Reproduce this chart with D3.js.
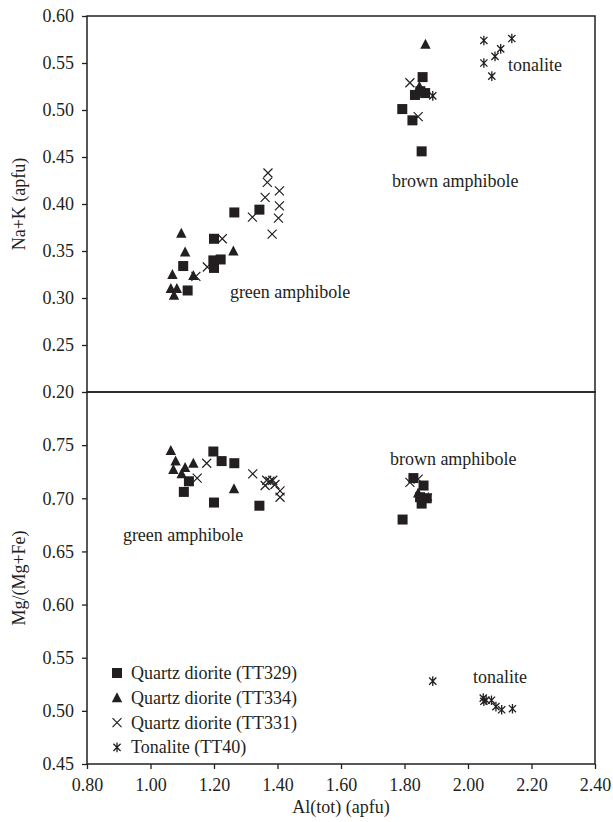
<!DOCTYPE html>
<html>
<head>
<meta charset="utf-8">
<script src="https://cdn.jsdelivr.net/npm/d3@7"></script>
<style>
  html, body { margin: 0; padding: 0; background: #fff; }
  svg text { font-family: "Liberation Serif", "Times New Roman", serif; fill: #231f20; }
</style>
</head>
<body>
<svg id="chart" width="613" height="822"></svg>
<script>
// ---------- data ----------
const xTicks = [0.80, 1.00, 1.20, 1.40, 1.60, 1.80, 2.00, 2.20, 2.40];
const topYTicks = [0.20, 0.25, 0.30, 0.35, 0.40, 0.45, 0.50, 0.55, 0.60];
const botYTicks = [0.45, 0.50, 0.55, 0.60, 0.65, 0.70, 0.75];

const seriesNames = ["Quartz diorite (TT329)", "Quartz diorite (TT334)", "Quartz diorite (TT331)", "Tonalite (TT40)"];
const seriesSymbols = ["square", "triangle", "cross", "asterisk"];

// Top panel: Al(tot) vs Na+K
const topTT329 = [[1.103,0.334],[1.117,0.308],[1.200,0.363],[1.198,0.340],[1.221,0.341],[1.200,0.332],[1.264,0.391],[1.343,0.394],
                  [1.857,0.535],[1.833,0.516],[1.865,0.518],[1.850,0.520],[1.793,0.501],[1.825,0.489],[1.854,0.456]];
const topTT334 = [[1.097,0.369],[1.109,0.349],[1.069,0.325],[1.064,0.310],[1.083,0.310],[1.074,0.303],[1.135,0.324],[1.261,0.350],
                  [1.866,0.570],[1.847,0.525]];
const topTT331 = [[1.179,0.333],[1.143,0.323],[1.226,0.363],[1.321,0.386],[1.361,0.407],[1.368,0.423],[1.370,0.433],[1.406,0.414],
                  [1.406,0.398],[1.403,0.385],[1.383,0.368],[1.817,0.529],[1.843,0.493]];
const topTT40  = [[2.050,0.574],[2.138,0.576],[2.103,0.565],[2.085,0.557],[2.050,0.550],[2.075,0.536],[1.889,0.515]];

// Bottom panel: Al(tot) vs Mg/(Mg+Fe)
const botTT329 = [[1.198,0.744],[1.224,0.735],[1.264,0.733],[1.121,0.716],[1.105,0.706],[1.200,0.696],[1.343,0.693],
                  [1.828,0.719],[1.860,0.712],[1.849,0.701],[1.870,0.700],[1.854,0.695],[1.794,0.680]];
const botTT334 = [[1.064,0.745],[1.079,0.735],[1.072,0.727],[1.109,0.729],[1.098,0.723],[1.135,0.733],[1.263,0.709],[1.843,0.705]];
const botTT331 = [[1.177,0.733],[1.147,0.719],[1.322,0.723],[1.366,0.717],[1.376,0.716],[1.392,0.713],[1.361,0.712],
                  [1.408,0.707],[1.408,0.701],[1.385,0.717],[1.817,0.715],[1.843,0.718]];
const botTT40  = [[1.875,0.701],[1.889,0.528],[2.048,0.512],[2.057,0.510],[2.074,0.510],[2.088,0.504],[2.106,0.501],[2.140,0.502],[2.050,0.509]];

// annotations [text, x, y] in data units
const topLabels = [["green amphibole", 1.250, 0.300], ["brown amphibole", 1.761, 0.418], ["tonalite", 2.126, 0.541]];
const botLabels = [["green amphibole", 0.913, 0.660], ["brown amphibole", 1.754, 0.731], ["tonalite", 2.016, 0.526]];

// ---------- layout ----------
const svg = d3.select("#chart");
const ink = "#231f20";
const L = 87, R = 595, T1 = 16, B1 = 392, T2 = 392, B2 = 764;
const fs = 18;

const x = d3.scaleLinear().domain([0.8, 2.4]).range([L, R]);
const yTop = d3.scaleLinear().domain([0.2, 0.6]).range([B1, T1]);
const yBot = d3.scaleLinear().domain([0.45, 0.80]).range([B2, T2]);

function sym(g, type, cx, cy) {
  if (type === "square") {
    g.append("rect").attr("x", cx - 5).attr("y", cy - 5).attr("width", 10).attr("height", 10).attr("fill", ink);
  } else if (type === "triangle") {
    g.append("path").attr("d", `M${cx},${cy-5.5}L${cx+5.2},${cy+4.5}L${cx-5.2},${cy+4.5}Z`).attr("fill", ink);
  } else if (type === "cross") {
    const s = 4.5;
    g.append("path").attr("d", `M${cx-s},${cy-s}L${cx+s},${cy+s}M${cx-s},${cy+s}L${cx+s},${cy-s}`)
      .attr("stroke", ink).attr("stroke-width", 1.2).attr("fill", "none");
  } else {
    const s = 3.6;
    g.append("path").attr("d", `M${cx-s},${cy-s}L${cx+s},${cy+s}M${cx-s},${cy+s}L${cx+s},${cy-s}M${cx},${cy-4.8}L${cx},${cy+4.8}`)
      .attr("stroke", ink).attr("stroke-width", 1.3).attr("fill", "none");
  }
}

function panel(y, top, bottom, ticks, series, labels) {
  const g = svg.append("g");
  const ax = g.append("g").attr("transform", `translate(${L},0)`)
    .call(d3.axisLeft(y).tickValues(ticks).tickFormat(d3.format(".2f")).tickSize(5).tickSizeOuter(0).tickPadding(8));
  ax.select(".domain").remove();
  ax.selectAll("line").attr("stroke", ink).attr("stroke-width", 1.3);
  ax.selectAll("text").attr("font-size", fs).attr("fill", ink);

  series.forEach((data, i) => {
    const sg = g.append("g");
    data.forEach(d => sym(sg, seriesSymbols[i], x(d[0]), y(d[1])));
  });

  labels.forEach(l => {
    g.append("text").attr("x", x(l[1])).attr("y", y(l[2])).attr("font-size", fs).text(l[0]);
  });

  g.append("rect").attr("x", L).attr("y", top).attr("width", R - L).attr("height", bottom - top)
    .attr("fill", "none").attr("stroke", ink).attr("stroke-width", 1.5);
}

panel(yTop, T1, B1, topYTicks, [topTT329, topTT334, topTT331, topTT40], topLabels);
panel(yBot, T2, B2, botYTicks, [botTT329, botTT334, botTT331, botTT40], botLabels);

// x axis
const xa = svg.append("g").attr("transform", `translate(0,${B2})`)
  .call(d3.axisBottom(x).tickValues(xTicks).tickFormat(d3.format(".2f")).tickSize(5).tickSizeOuter(0).tickPadding(9));
xa.select(".domain").remove();
xa.selectAll("line").attr("stroke", ink).attr("stroke-width", 1.3);
xa.selectAll("text").attr("font-size", fs).attr("fill", ink);

// axis titles
svg.append("text").attr("x", (L + R) / 2).attr("y", 813).attr("text-anchor", "middle").attr("font-size", fs).text("Al(tot) (apfu)");
svg.append("text").attr("transform", `translate(25,${(T1 + B1) / 2}) rotate(-90)`).attr("text-anchor", "middle").attr("font-size", fs).text("Na+K (apfu)");
svg.append("text").attr("transform", `translate(25,${(T2 + B2) / 2}) rotate(-90)`).attr("text-anchor", "middle").attr("font-size", fs).text("Mg/(Mg+Fe)");

// legend
const legY0 = 673, legDy = 24.8;
const leg = svg.append("g");
seriesNames.forEach((name, i) => {
  const cy = legY0 + i * legDy;
  sym(leg, seriesSymbols[i], 117, cy);
  leg.append("text").attr("x", 131).attr("y", cy + 6).attr("font-size", fs).text(name);
});
</script>
</body>
</html>
